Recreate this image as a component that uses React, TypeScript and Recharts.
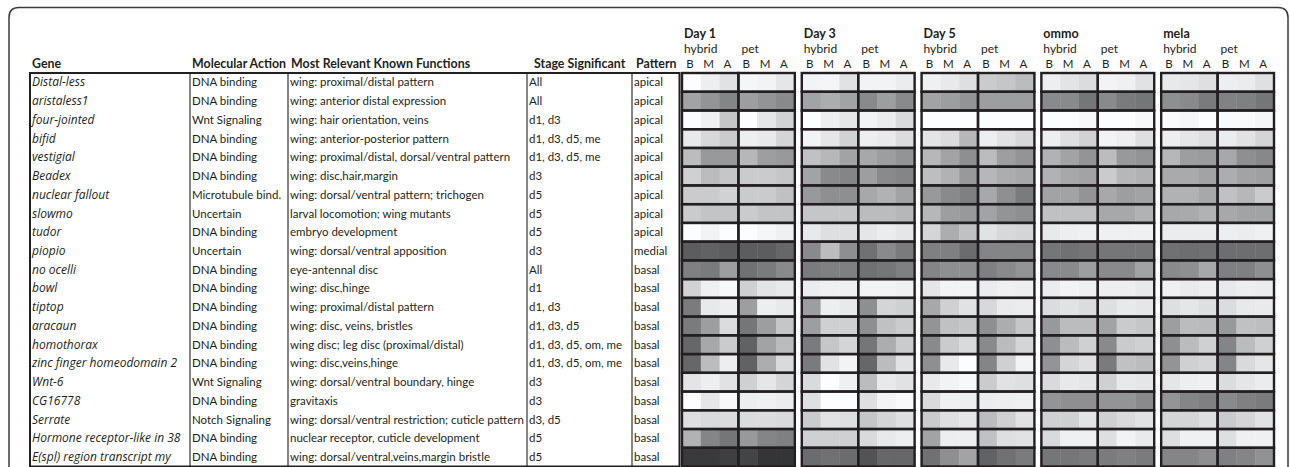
import React from 'react';
import { ScatterChart, Scatter, XAxis, YAxis } from 'recharts';

const genes = [
  'Distal-less', 'aristaless1', 'four-jointed', 'bifid', 'vestigial', 'Beadex',
  'nuclear fallout', 'slowmo', 'tudor', 'piopio', 'no ocelli', 'bowl', 'tiptop',
  'aracaun', 'homothorax', 'zinc finger homeodomain 2', 'Wnt-6', 'CG16778',
  'Serrate', 'Hormone receptor-like in 38', 'E(spl) region transcript my',
];
const actions = [
  'DNA binding', 'DNA binding', 'Wnt Signaling', 'DNA binding', 'DNA binding', 'DNA binding',
  'Microtubule bind.', 'Uncertain', 'DNA binding', 'Uncertain', 'DNA binding', 'DNA binding',
  'DNA binding', 'DNA binding', 'DNA binding', 'DNA binding', 'Wnt Signaling', 'DNA binding',
  'Notch Signaling', 'DNA binding', 'DNA binding',
];
const functions = [
  'wing: proximal/distal pattern',
  'wing: anterior distal expression',
  'wing: hair orientation, veins',
  'wing: anterior-posterior pattern',
  'wing: proximal/distal, dorsal/ventral pattern',
  'wing: disc,hair,margin',
  'wing: dorsal/ventral pattern; trichogen',
  'larval locomotion; wing mutants',
  'embryo development',
  'wing: dorsal/ventral apposition',
  'eye-antennal disc',
  'wing: disc,hinge',
  'wing: proximal/distal pattern',
  'wing: disc, veins, bristles',
  'wing disc; leg disc (proximal/distal)',
  'wing: disc,veins,hinge',
  'wing: dorsal/ventral boundary, hinge',
  'gravitaxis',
  'wing: dorsal/ventral restriction; cuticle pattern',
  'nuclear receptor, cuticle development',
  'wing: dorsal/ventral,veins,margin bristle',
];
const stages = [
  'All', 'All', 'd1, d3', 'd1, d3, d5, me', 'd1, d3, d5, me', 'd3', 'd5', 'd5', 'd5', 'd3',
  'All', 'd1', 'd1, d3', 'd1, d3, d5', 'd1, d3, d5, om, me', 'd1, d3, d5, om, me',
  'd3', 'd3', 'd3, d5', 'd5', 'd5',
];
const patterns = [
  'apical', 'apical', 'apical', 'apical', 'apical', 'apical', 'apical', 'apical', 'apical',
  'medial', 'basal', 'basal', 'basal', 'basal', 'basal', 'basal', 'basal', 'basal', 'basal',
  'basal', 'basal',
];

const groups = ['Day 1', 'Day 3', 'Day 5', 'ommo', 'mela'];
const samples = ['hybrid', 'pet'];
const regions = ['B', 'M', 'A'];

// grey level (0 black - 255 white) per gene: hybrid B M A, pet B M A
const day1 = [
  [255, 240, 228, 248, 245, 232], [165, 150, 135, 160, 150, 140], [255, 242, 200, 255, 232, 212],
  [235, 218, 205, 240, 235, 215], [190, 155, 155, 185, 160, 155], [210, 190, 200, 205, 205, 200],
  [205, 205, 212, 205, 205, 195], [205, 198, 198, 205, 198, 198], [255, 245, 255, 255, 248, 242],
  [95, 100, 95, 95, 95, 105], [130, 125, 160, 115, 125, 140], [212, 242, 250, 210, 230, 235],
  [125, 235, 240, 160, 240, 235], [125, 160, 222, 120, 160, 200], [105, 170, 205, 100, 165, 190],
  [105, 190, 240, 100, 175, 220], [230, 240, 228, 210, 232, 215], [255, 232, 250, 240, 242, 238],
  [225, 220, 222, 222, 222, 220], [180, 135, 120, 155, 135, 130], [60, 60, 65, 70, 55, 55],
];
const day3 = [
  [245, 247, 228, 245, 245, 238], [165, 175, 165, 140, 160, 140], [255, 240, 232, 245, 238, 220],
  [245, 232, 212, 240, 236, 222], [195, 185, 165, 170, 160, 150], [165, 140, 135, 160, 140, 135],
  [155, 145, 145, 170, 180, 165], [200, 200, 200, 190, 190, 185], [235, 225, 225, 232, 238, 232],
  [140, 190, 145, 115, 140, 125], [125, 130, 130, 115, 120, 130], [238, 242, 242, 245, 245, 242],
  [160, 240, 235, 145, 215, 210], [160, 210, 210, 145, 195, 205], [125, 200, 215, 120, 175, 205],
  [125, 228, 245, 105, 190, 228], [220, 255, 242, 190, 235, 228], [225, 255, 255, 225, 245, 250],
  [205, 228, 225, 200, 215, 225], [210, 210, 210, 220, 235, 240], [110, 115, 110, 85, 105, 105],
];
const day5 = [
  [242, 235, 225, 205, 200, 190], [165, 160, 150, 160, 160, 160], [255, 255, 255, 255, 255, 255],
  [230, 222, 185, 240, 228, 218], [185, 165, 145, 190, 160, 150], [192, 180, 155, 185, 175, 170],
  [155, 140, 130, 170, 145, 125], [185, 160, 155, 165, 150, 145], [215, 175, 195, 228, 218, 215],
  [130, 130, 110, 135, 135, 135], [135, 145, 145, 130, 140, 150], [232, 245, 245, 238, 242, 240],
  [170, 210, 228, 218, 236, 238], [150, 195, 200, 145, 175, 200], [140, 205, 220, 140, 190, 215],
  [145, 235, 255, 135, 210, 245], [235, 245, 250, 205, 228, 225], [220, 242, 240, 238, 240, 242],
  [205, 225, 232, 190, 210, 228], [165, 240, 240, 195, 225, 228], [115, 145, 165, 100, 115, 125],
];
const ommo = [
  [240, 230, 222, 245, 242, 228], [140, 140, 120, 140, 125, 120], [255, 255, 250, 255, 255, 250],
  [240, 225, 212, 245, 240, 225], [180, 165, 150, 190, 155, 150], [180, 170, 165, 205, 185, 180],
  [165, 165, 150, 170, 160, 165], [195, 195, 195, 170, 170, 180], [235, 240, 242, 242, 242, 242],
  [120, 115, 120, 120, 120, 120], [140, 140, 160, 140, 140, 165], [238, 245, 242, 240, 240, 235],
  [222, 228, 222, 225, 235, 232], [155, 190, 190, 165, 205, 200], [145, 190, 210, 140, 205, 210],
  [150, 215, 225, 125, 195, 190], [220, 235, 232, 210, 235, 232], [150, 145, 145, 150, 150, 140],
  [210, 210, 230, 210, 220, 228], [220, 242, 242, 225, 245, 236], [120, 120, 125, 125, 130, 125],
];
const mela = [
  [235, 232, 225, 240, 238, 226], [145, 140, 125, 132, 130, 120], [252, 248, 255, 252, 252, 248],
  [240, 232, 225, 238, 228, 215], [185, 160, 158, 170, 145, 138], [172, 172, 165, 175, 165, 162],
  [180, 180, 170, 195, 185, 205], [170, 172, 180, 170, 165, 165], [238, 238, 238, 240, 238, 242],
  [115, 112, 115, 112, 112, 112], [140, 145, 170, 130, 130, 145], [242, 236, 240, 235, 240, 238],
  [225, 232, 225, 222, 235, 236], [160, 190, 188, 155, 195, 192], [145, 190, 210, 135, 190, 210],
  [150, 210, 215, 135, 220, 232], [232, 240, 242, 222, 232, 238], [150, 135, 130, 140, 130, 125],
  [215, 215, 225, 205, 215, 228], [225, 242, 242, 225, 242, 242], [135, 135, 145, 130, 135, 148],
];

const blocks = [day1, day3, day5, ommo, mela];

const W = 1290;
const H = 467;
const TOP = 73;
const LEFT = 682;
const RIGHT = 16;
const AXIS_X_H = 30;
const AXIS_Y_W = 40;
const GAP = 0.37; // space between group blocks, in cell units
const XMAX = 5 * 6 + 4 * GAP;
const UNIT = (W - LEFT - RIGHT) / XMAX;
const ROW_H = (H - TOP - 0.5) / genes.length;
const INK = '#231f20';
const FONT = 'Lato, "Open Sans", sans-serif';
const ITALIC_FONT = '"Open Sans", Lato, sans-serif';

const cells = blocks.flatMap((rows, b) =>
  rows.flatMap((vals, r) =>
    vals.map((v, k) => ({ x: b * (6 + GAP) + k + 0.5, y: r + 0.5, v })),
  ),
);
const halves = blocks.flatMap((rows, b) =>
  rows.flatMap((_, r) => [0, 1].map((h) => ({ x: b * (6 + GAP) + h * 3 + 1.5, y: r + 0.5 }))),
);
const colTicks = blocks.flatMap((_, b) => [0, 1, 2, 3, 4, 5].map((k) => b * (6 + GAP) + k + 0.5));
const rowTicks = genes.map((_, i) => i + 0.5);

const grey = (g: number) => `rgb(${Math.max(g - 3, 0)},${Math.max(g - 2, 0)},${g})`;

const CellShape = (p: any) => (
  <rect
    x={p.cx - UNIT / 2}
    y={p.cy - ROW_H / 2}
    width={UNIT + 0.4}
    height={ROW_H + 0.4}
    fill={grey(p.payload.v)}
  />
);

const HalfShape = (p: any) => (
  <rect
    x={p.cx - (UNIT * 3) / 2}
    y={p.cy - ROW_H / 2}
    width={UNIT * 3}
    height={ROW_H}
    fill="none"
    stroke={INK}
    strokeWidth={2.4}
  />
);

const renderColumnTick = (p: any) => {
  const c = colTicks.indexOf(p.payload.value);
  const k = c % 6;
  const left = p.x - UNIT / 2;
  return (
    <g key={`c${c}`} fontFamily={FONT} fill={INK}>
      {k === 0 && (
        <text x={left + 2} y={37.5} fontSize={12.5} fontWeight="bold">{groups[Math.floor(c / 6)]}</text>
      )}
      {k % 3 === 0 && (
        <text x={left + (k === 0 ? 2 : 3)} y={52.5} fontSize={12}>{samples[k / 3]}</text>
      )}
      <text x={p.x - 1.5} y={67.5} fontSize={11.5} textAnchor="middle">{regions[k % 3]}</text>
    </g>
  );
};

const renderRowTick = (p: any) => {
  const i = rowTicks.indexOf(p.payload.value);
  const y = p.y + 4;
  return (
    <g key={`r${i}`} fontFamily={FONT} fontSize={11.5} fill={INK}>
      <text x={32} y={y} fontFamily={ITALIC_FONT} fontSize={12} fontStyle="italic">{genes[i]}</text>
      <text x={192} y={y}>{actions[i]}</text>
      <text x={290} y={y}>{functions[i]}</text>
      <text x={529} y={y}>{stages[i]}</text>
      <text x={634} y={y}>{patterns[i]}</text>
    </g>
  );
};

const headers = [
  { label: 'Gene', x: 32 },
  { label: 'Molecular Action', x: 192 },
  { label: 'Most Relevant Known Functions', x: 291 },
  { label: 'Stage Significant', x: 534 },
  { label: 'Pattern', x: 636 },
];
const separators = [190, 288, 527, 632];

export default function App() {
  return (
    <div style={{ position: 'absolute', left: 0, top: 0, width: W, height: H, background: '#fff' }}>
      <ScatterChart
        width={W}
        height={H}
        margin={{ top: TOP - AXIS_X_H, right: RIGHT, bottom: 0.5, left: LEFT - AXIS_Y_W }}
      >
        <XAxis
          type="number"
          dataKey="x"
          orientation="top"
          domain={[0, XMAX]}
          ticks={colTicks}
          interval={0}
          height={AXIS_X_H}
          axisLine={false}
          tickLine={false}
          tick={renderColumnTick}
        />
        <YAxis
          type="number"
          dataKey="y"
          domain={[0, genes.length]}
          reversed
          ticks={rowTicks}
          interval={0}
          width={AXIS_Y_W}
          axisLine={false}
          tickLine={false}
          tick={renderRowTick}
        />
        <Scatter data={cells} shape={<CellShape />} isAnimationActive={false} />
        <Scatter data={halves} shape={<HalfShape />} isAnimationActive={false} />
      </ScatterChart>
      <svg width={W} height={H} style={{ position: 'absolute', left: 0, top: 0, pointerEvents: 'none' }}>
        <path
          d="M9,520 V17.5 Q9,7.5 19,7.5 H1278 Q1288,7.5 1288,17.5 V520"
          fill="none"
          stroke="#3a3a3a"
          strokeWidth={1.5}
        />
        <rect x={30} y={TOP} width={649.5} height={H - TOP - 0.5} fill="none" stroke={INK} strokeWidth={2} />
        {separators.map((x) => (
          <line key={x} x1={x} x2={x} y1={TOP} y2={H} stroke={INK} strokeWidth={1.1} />
        ))}
        <g fontFamily={FONT} fontSize={12.4} fontWeight="bold" fill={INK}>
          {headers.map((h) => (
            <text key={h.label} x={h.x} y={67.5}>{h.label}</text>
          ))}
        </g>
      </svg>
    </div>
  );
}
